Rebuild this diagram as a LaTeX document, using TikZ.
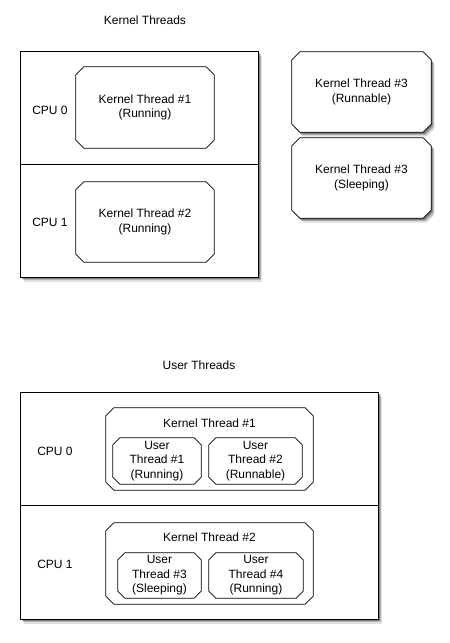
\documentclass[tikz,border=0pt]{standalone}
\usepackage{fontspec}
\setmainfont{Liberation Sans}
\usetikzlibrary{calc,shadows,backgrounds}
\newcommand\chamfdraw[3][]{%
  \draw[line width=0.8pt,#1]
    ($(#2.north west)+(#3,0pt)$) -- ($(#2.north east)+(-#3,0pt)$) --
    ($(#2.north east)+(0pt,-#3)$) -- ($(#2.south east)+(0pt,#3)$) --
    ($(#2.south east)+(-#3,0pt)$) -- ($(#2.south west)+(#3,0pt)$) --
    ($(#2.south west)+(0pt,#3)$) -- ($(#2.north west)+(0pt,-#3)$) -- cycle;}
\begin{document}
\begin{tikzpicture}[x=1pt,y=-1pt,
  every node/.style={font=\fontsize{12}{14.5}\selectfont, align=center, inner sep=0pt},
  shad/.style={
    drop shadow={shadow xshift=3.5pt, shadow yshift=-4.5pt, fill=black, opacity=0.12},
    drop shadow={shadow xshift=2.5pt, shadow yshift=-3pt, fill=black, opacity=0.2},
    drop shadow={shadow xshift=1.5pt, shadow yshift=-1.8pt, fill=black, opacity=0.3}},
  outerbox/.style={draw, fill=white, line width=0.8pt, shad},
  cbox/.style={rectangle},
  lbl/.style={}]
\useasboundingbox (0,0) rectangle (450,643);
% Kernel threads
\node[lbl] (ktitle) at (145,20) {Kernel Threads};
\node[outerbox, minimum width=238pt, minimum height=226pt] (kcpu) at (139,164) {};
\draw[line width=0.8pt] (kcpu.west) -- (kcpu.east);
\node[lbl] (kc0) at (50,110) {CPU 0};
\node[lbl] (kc1) at (50,222) {CPU 1};
\node[cbox, minimum width=138pt, minimum height=81pt] (kt1) at (145,107.5) {Kernel Thread \#1\\(Running)};
\node[cbox, minimum width=138pt, minimum height=80pt] (kt2) at (145,222) {Kernel Thread \#2\\(Running)};
\chamfdraw{kt1}{8pt}
\chamfdraw{kt2}{8pt}
\node[cbox, minimum width=139pt, minimum height=80pt] (kt3a) at (361.5,92) {Kernel Thread \#3\\(Runnable)};
\node[cbox, minimum width=139pt, minimum height=80pt] (kt3b) at (361.5,178) {Kernel Thread \#3\\(Sleeping)};
\begin{scope}[on background layer]
\chamfdraw[fill=white, shad]{kt3a}{8pt}
\chamfdraw[fill=white, shad]{kt3b}{8pt}
\end{scope}
% User threads
\node[lbl] (utitle) at (199,365) {User Threads};
\node[outerbox, minimum width=358pt, minimum height=227pt] (ucpu) at (199,505.5) {};
\draw[line width=0.8pt] (ucpu.west) -- (ucpu.east);
\node[lbl] (uc0) at (55,451) {CPU 0};
\node[lbl] (uc1) at (55,564) {CPU 1};
\node[cbox, minimum width=207pt, minimum height=82pt] (ukt1) at (209.5,449) {};
\node[lbl] (ukt1t) at (209.5,423) {Kernel Thread \#1};
\node[cbox, minimum width=88pt, minimum height=46pt] (ut1) at (157,461) {User\\Thread \#1\\(Running)};
\node[cbox, minimum width=93pt, minimum height=46pt] (ut2) at (255.5,461) {User\\Thread \#2\\(Runnable)};
\node[cbox, minimum width=207pt, minimum height=81pt] (ukt2) at (209.5,563.5) {};
\node[lbl] (ukt2t) at (209.5,537) {Kernel Thread \#2};
\node[cbox, minimum width=83pt, minimum height=45pt] (ut3) at (159.5,575.5) {User\\Thread \#3\\(Sleeping)};
\node[cbox, minimum width=94pt, minimum height=45pt] (ut4) at (256,575.5) {User\\Thread \#4\\(Running)};
\chamfdraw{ukt1}{8pt}
\chamfdraw{ukt2}{8pt}
\chamfdraw{ut1}{7pt}
\chamfdraw{ut2}{7pt}
\chamfdraw{ut3}{7pt}
\chamfdraw{ut4}{7pt}
\end{tikzpicture}
\end{document}
